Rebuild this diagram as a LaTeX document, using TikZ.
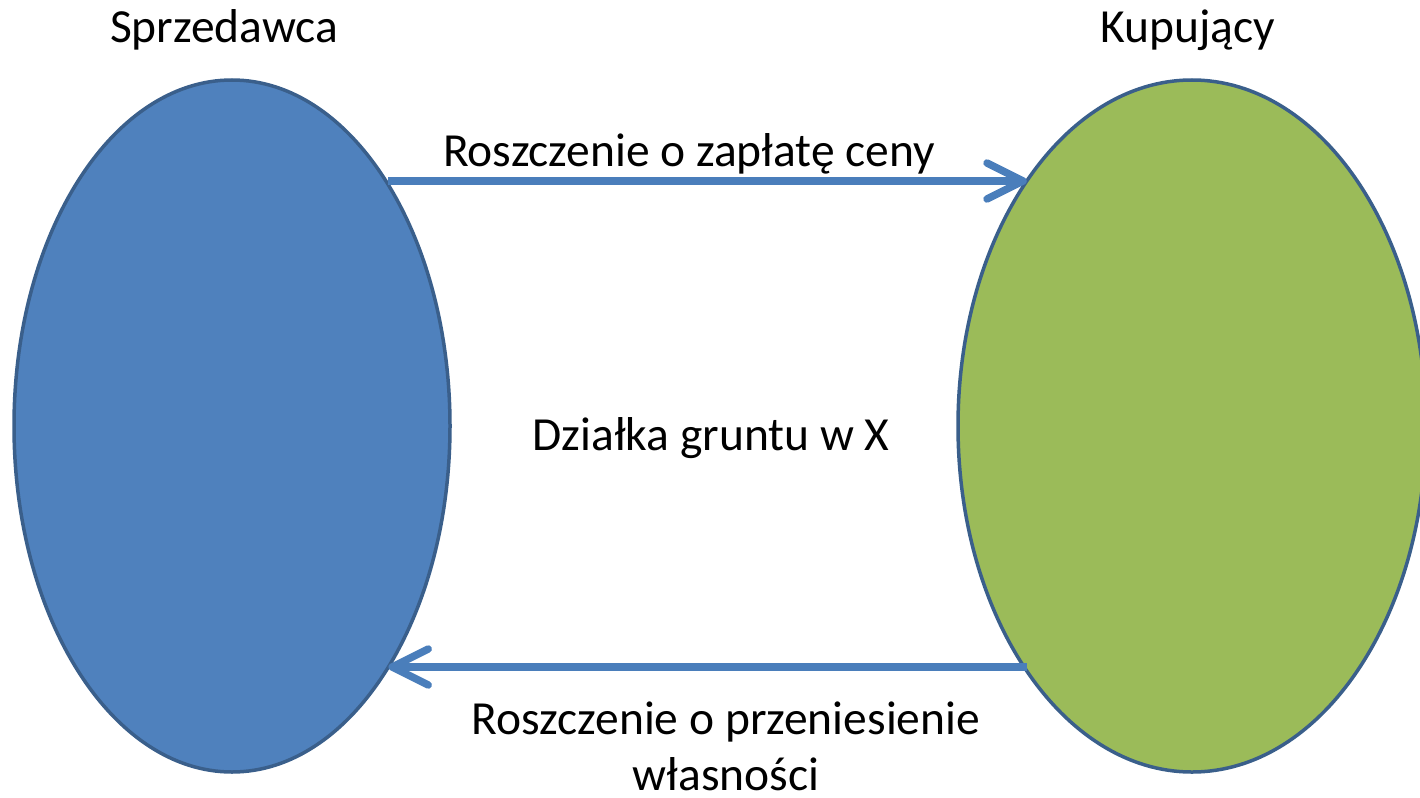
\documentclass[tikz,border=0pt]{standalone}
\usepackage{fontspec}
\setmainfont{Carlito}
\usetikzlibrary{shapes.geometric,arrows.meta}
\definecolor{blueFill}{HTML}{4F81BD}
\definecolor{greenFill}{HTML}{9BBB59}
\definecolor{edgeBlue}{HTML}{3A5F8B}
\definecolor{arrowBlue}{HTML}{4A7EBB}
\tikzset{
  party/.style={ellipse, draw=edgeBlue, line width=3.5pt, inner sep=0pt, outer sep=0pt},
  lbl/.style={anchor=base, inner sep=0pt, font=\fontsize{47.5}{57}\selectfont, text=black},
  claim/.style={draw=arrowBlue, line width=7.5pt, -{Straight Barb[length=36pt,width=36pt,round]}}
}
\begin{document}
\begin{tikzpicture}[x=1pt,y=-1pt]
\useasboundingbox (0,0) rectangle (1420,797);
\node[party, fill=blueFill, minimum width=436pt, minimum height=692pt] (L) at (232,426) {};
\node[party, fill=greenFill, minimum width=468pt, minimum height=692pt] (R) at (1192,426) {};
\coordinate (topY) at (0,181);
\coordinate (botY) at (0,667);
\node[lbl] (ls) at (224,43) {Sprzedawca};
\node[lbl] (lk) at (1188,43) {Kupujący};
\node[lbl] (lt) at (689,166) {Roszczenie o zapłatę ceny};
\node[lbl] (lm) at (711,450) {Działka gruntu w X};
\node[lbl] (lb1) at (726,734) {Roszczenie o przeniesienie};
\node[lbl] (lb2) at (726,790) {własności};
\draw[claim] (L.57.86 |- topY) -- (R.124.01 |- topY);
\draw[claim] (R.-124.87 |- botY) -- (L.-57.02 |- botY);
\end{tikzpicture}
\end{document}
